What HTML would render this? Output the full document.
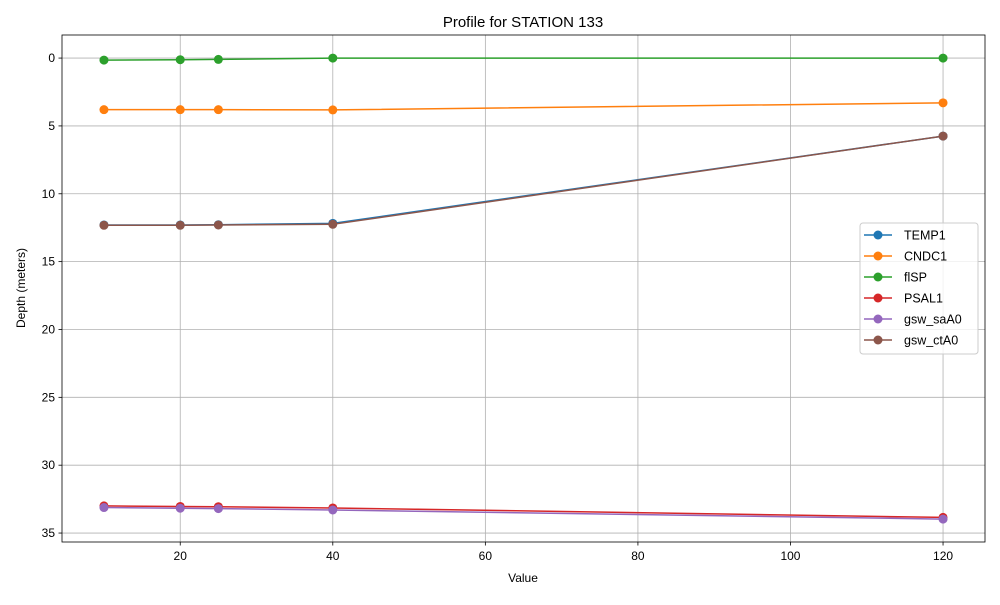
<!DOCTYPE html>
<html><head><meta charset="utf-8"><style>
body{margin:0;background:#fff}
svg{font-family:"Liberation Sans","DejaVu Sans",sans-serif}
</style></head><body>
<svg id="chart" width="1000" height="600">
<rect width="1000" height="600" fill="#fff"/>
<text x="523" y="27" font-size="15" text-anchor="middle">Profile for STATION 133</text>
<g id="grid"></g><g id="axes"></g><g id="series"></g>
<text x="523" y="582" font-size="12" text-anchor="middle">Value</text>
<text transform="translate(25,288) rotate(-90)" font-size="12" text-anchor="middle">Depth (meters)</text>
<g id="legend"></g>
</svg>
<script>
const xValues=[10,20,25,40,120];
const seriesNames=["TEMP1","CNDC1","flSP","PSAL1","gsw_saA0","gsw_ctA0"];
const seriesColors=["#1f77b4","#ff7f0e","#2ca02c","#d62728","#9467bd","#8c564b"];
const temp1=[12.3,12.3,12.28,12.18,5.75];
const cndc1=[3.8,3.8,3.8,3.82,3.3];
const flsp=[0.15,0.12,0.1,0.0,0.0];
const psal1=[33.0,33.04,33.06,33.15,33.85];
const gswSa=[33.12,33.17,33.2,33.3,33.97];
const gswCt=[12.32,12.32,12.3,12.25,5.75];
const xTicks=[20,40,60,80,100,120];
const yTicks=[0,5,10,15,20,25,30,35];
const allSeries=[temp1,cndc1,flsp,psal1,gswSa,gswCt];
const L=62,R=985,T=35,B=542,X0=4.5,X1=125.5,Y0=-1.7,Y1=35.66;
const sx=v=>L+(v-X0)/(X1-X0)*(R-L);
const sy=v=>T+(v-Y0)/(Y1-Y0)*(B-T);
const NS="http://www.w3.org/2000/svg";
function mk(tag,at,parent){const e=document.createElementNS(NS,tag);for(const k in at)e.setAttribute(k,at[k]);parent.appendChild(e);return e;}
const grid=document.getElementById('grid'),axes=document.getElementById('axes'),ser=document.getElementById('series'),leg=document.getElementById('legend');
xTicks.forEach(t=>{const x=sx(t);
 const g=mk('line',{x1:x,x2:x,y1:T,y2:B,stroke:'#b0b0b0','stroke-width':0.8},grid);
 
 
 mk('line',{x1:x,x2:x,y1:B,y2:B+3.5,stroke:'#000','stroke-width':0.8},axes);
 const tx=mk('text',{x:x,y:B+18,'font-size':12,'text-anchor':'middle'},axes);tx.textContent=t;
 
 
});
yTicks.forEach(t=>{const y=sy(t);
 const g=mk('line',{x1:L,x2:R,y1:y,y2:y,stroke:'#b0b0b0','stroke-width':0.8},grid);
 
 
 mk('line',{x1:L-3.5,x2:L,y1:y,y2:y,stroke:'#000','stroke-width':0.8},axes);
 const tx=mk('text',{x:L-7,y:y+4,'font-size':12,'text-anchor':'end'},axes);tx.textContent=t;
 
 
});
const fr=mk('rect',{x:L,y:T,width:R-L,height:B-T,fill:'none',stroke:'#000','stroke-width':0.8},axes);


allSeries.forEach((d,i)=>{
 const g=mk('g',{},ser);
 
 
 mk('polyline',{points:d.map((v,j)=>sx(xValues[j])+','+sy(v)).join(' '),fill:'none',stroke:seriesColors[i],'stroke-width':1.5},g);
 d.forEach((v,j)=>{const c=mk('circle',{cx:sx(xValues[j]),cy:sy(v),r:4.5,fill:seriesColors[i]},g);
  
  });
});
const lb=mk('rect',{x:860,y:223,width:118,height:131,rx:3,fill:'#fff','fill-opacity':0.8,stroke:'#ccc','stroke-width':1},leg);


seriesNames.forEach((n,i)=>{const y=235+i*21;
 const g=mk('g',{},leg);
 
 
 mk('line',{x1:864,x2:892,y1:y,y2:y,stroke:seriesColors[i],'stroke-width':1.5},g);
 mk('circle',{cx:878,cy:y,r:4.5,fill:seriesColors[i]},g);
 const t=mk('text',{x:904,y:y+4.5,'font-size':12.5},g);t.textContent=n;
});
</script>
</body></html>
